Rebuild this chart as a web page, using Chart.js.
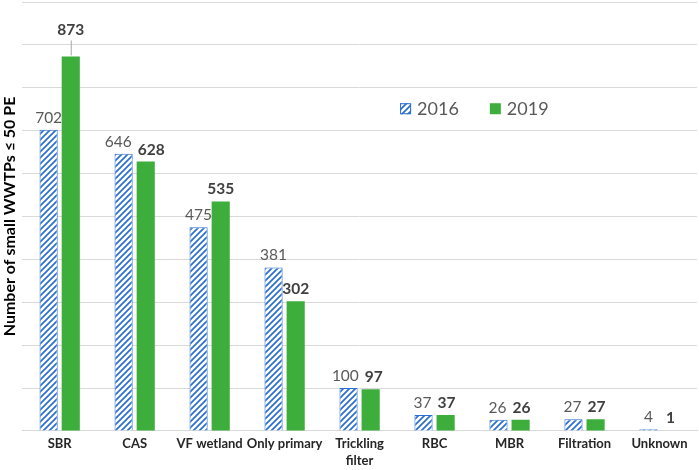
<!DOCTYPE html>
<html>
<head>
<meta charset="utf-8">
<script src="https://cdn.jsdelivr.net/npm/chart.js@4.4.1/dist/chart.umd.min.js"></script>
<style>
  html, body { margin: 0; padding: 0; background: #fff; }
  #wrap { width: 699px; height: 470px; position: relative; }
</style>
</head>
<body>
<div id="wrap"><canvas id="chart"></canvas></div>
<script>
const categories = ["SBR", "CAS", "VF wetland", "Only primary", ["Trickling", "filter"], "RBC", "MBR", "Filtration", "Unknown"];
const values2016 = [702, 646, 475, 381, 100, 37, 26, 27, 4];
const values2019 = [873, 628, 535, 302, 97, 37, 26, 27, 1];
const seriesNames = ["2016", "2019"];
const yTitle = "Number of small WWTPs \u2264 50 PE";

const FONT = "Lato";
const BLUE = "#2a6ed1";
const GREEN = "#3dae3c";

// diagonal hatch for the 2016 bars
function makeHatch() {
  const c = document.createElement("canvas");
  c.width = 6;
  c.height = 6;
  const g = c.getContext("2d");
  g.fillStyle = "#fff";
  g.fillRect(0, 0, 6, 6);
  g.strokeStyle = BLUE;
  g.lineWidth = 1.7;
  g.beginPath();
  g.moveTo(0, 6); g.lineTo(6, 0);
  g.moveTo(-3, 3); g.lineTo(3, -3);
  g.moveTo(3, 9); g.lineTo(9, 3);
  g.stroke();
  return g.createPattern(c, "repeat");
}
const hatch = makeHatch();

const labelFonts = ["normal 15.5px " + FONT, "bold 15.5px " + FONT];
const labelColors = ["#595959", "#404040"];

const barLabels = {
  id: "barLabels",
  afterDatasetsDraw(chart) {
    const ctx = chart.ctx;
    ctx.save();
    ctx.textAlign = "center";
    ctx.textBaseline = "alphabetic";
    categories.forEach((c, i) => {
      const items = [0, 1].map(d => {
        const bar = chart.getDatasetMeta(d).data[i];
        const text = String(chart.data.datasets[d].data[i]);
        ctx.font = labelFonts[d];
        const lift = (d === 1 && i === 0) ? 14 : 0;
        return { x: bar.x, y: bar.y - 7 - lift, top: bar.y, w: ctx.measureText(text).width, text, d, lift };
      });
      const a = items[0], b = items[1];
      if (Math.abs(a.y - b.y) < 14) {
        const need = (a.w + b.w) / 2 + 6 - (b.x - a.x);
        if (need > 0) { a.x -= need / 2; b.x += need / 2; }
      }
      items.forEach(it => {
        ctx.font = labelFonts[it.d];
        ctx.fillStyle = labelColors[it.d];
        ctx.fillText(it.text, it.x, it.y);
        if (it.lift) {
          ctx.strokeStyle = "#a6a6a6";
          ctx.lineWidth = 1;
          ctx.beginPath();
          ctx.moveTo(it.x + 0.5, it.y + 5);
          ctx.lineTo(it.x + 0.5, it.top - 1);
          ctx.stroke();
        }
      });
    });
    ctx.restore();
  }
};

const insideLegend = {
  id: "insideLegend",
  afterDraw(chart) {
    const ctx = chart.ctx;
    const area = chart.chartArea;
    const fills = [hatch, GREEN];
    let x = area.left + 0.56 * (area.right - area.left);
    const y = area.top + 0.25 * (area.bottom - area.top);
    ctx.save();
    ctx.font = "18px " + FONT;
    ctx.textBaseline = "middle";
    seriesNames.forEach((name, d) => {
      ctx.fillStyle = fills[d];
      ctx.fillRect(x, y - 6, 11, 11);
      if (d === 0) {
        ctx.strokeStyle = BLUE;
        ctx.lineWidth = 1;
        ctx.strokeRect(x + 0.5, y - 5.5, 10, 10);
      }
      ctx.fillStyle = "#595959";
      ctx.fillText(name, x + 17, y);
      x += 17 + ctx.measureText(name).width + 31;
    });
    ctx.restore();
  }
};

new Chart(document.getElementById("chart"), {
  type: "bar",
  data: {
    labels: categories,
    datasets: [
      {
        label: seriesNames[0],
        data: values2016,
        backgroundColor: hatch,
        borderColor: BLUE,
        borderWidth: 1,
        categoryPercentage: 0.59,
        barPercentage: 0.82
      },
      {
        label: seriesNames[1],
        data: values2019,
        backgroundColor: GREEN,
        borderWidth: 0,
        categoryPercentage: 0.59,
        barPercentage: 0.82
      }
    ]
  },
  options: {
    responsive: true,
    maintainAspectRatio: false,
    animation: false,
    layout: { padding: { top: 2, right: 2, left: 0, bottom: -4 } },
    plugins: {
      legend: { display: false },
      tooltip: { enabled: false }
    },
    scales: {
      x: {
        grid: { display: false, drawTicks: false },
        border: { color: "#d9d9d9" },
        ticks: {
          color: "#262626",
          font: { family: FONT, size: 13, weight: "bold", lineHeight: 1.35 },
          maxRotation: 0,
          autoSkip: false,
          padding: 4
        }
      },
      y: {
        min: 0,
        max: 1000,
        ticks: { stepSize: 100, display: false },
        grid: { color: "#d9d9d9", drawTicks: false },
        border: { display: false },
        title: {
          display: true,
          text: yTitle,
          color: "#000",
          font: { family: FONT, size: 16, weight: "bold" },
          padding: { top: 0, bottom: 3 }
        }
      }
    }
  },
  plugins: [barLabels, insideLegend]
});
</script>
</body>
</html>
